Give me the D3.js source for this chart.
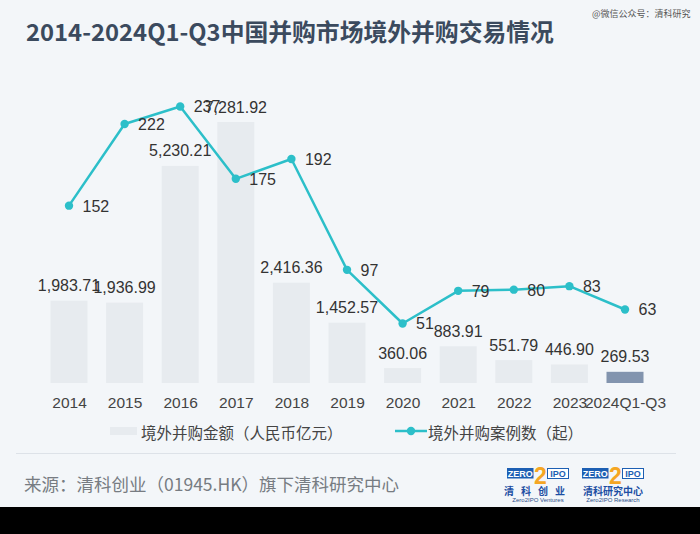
<!DOCTYPE html>
<html><head><meta charset="utf-8">
<script src="https://cdn.jsdelivr.net/npm/d3@7"></script>
<style>
html,body{margin:0;padding:0;background:#f3f6f9;}
svg{display:block;}
</style>
</head><body>
<svg id="chart" width="700" height="534"></svg>
<script>
// ---- data ----
const categories = ["2014","2015","2016","2017","2018","2019","2020","2021","2022","2023","2024Q1-Q3"];
const amountValues = [1983.71,1936.99,5230.21,7281.92,2416.36,1452.57,360.06,883.91,551.79,446.90,269.53];
const dealCounts = [152,222,237,175,192,97,51,79,80,83,63];
const seriesNames = ["境外并购金额（人民币亿元）","境外并购案例数（起）"];
const titleText = "2014-2024Q1-Q3中国并购市场境外并购交易情况";
const sourceText = "来源：清科创业（01945.HK）旗下清科研究中心";
const watermarkText = "@微信公众号：清科研究";

// ---- setup ----
const svg = d3.select("#chart");
const numFont = "'Liberation Sans', Arial, sans-serif";
const cjkFont = "'Noto Sans CJK SC', 'Noto Sans', sans-serif";
const barColor = "#e7ebef", lastBarColor = "#8294ae", lineColor = "#2cbfc9";

svg.append("rect").attr("width",700).attr("height",534).attr("fill","#f3f6f9");

// title
svg.append("text").attr("x",26).attr("y",41)
  .attr("font-family",cjkFont).attr("font-weight","bold").attr("font-size",23.8)
  .attr("fill","#3b4a5e").text(titleText);
svg.append("text").attr("x",592).attr("y",17)
  .attr("font-family",cjkFont).attr("font-size",9).attr("fill","#555")
  .text(watermarkText);

// scales
const plotTop = 122, plotBottom = 383;
const x = d3.scalePoint().domain(categories).range([69, 625]);
const yBar = d3.scaleLinear().domain([0, 6289]).range([plotBottom, plotTop]).clamp(true);
const yLine = d3.scaleLinear().domain([0, 223.7]).range([plotBottom, plotTop]);
const barW = 37;
const fmt = d3.format(",.2f");

// bars
const rows = categories.map((c,i)=>({c, v:amountValues[i], n:dealCounts[i], last:i===categories.length-1}));
svg.append("g").selectAll("rect").data(rows).join("rect")
  .attr("x",d=>x(d.c)-barW/2).attr("width",barW)
  .attr("y",d=>yBar(d.v)).attr("height",d=>plotBottom-yBar(d.v))
  .attr("fill",d=>d.last?lastBarColor:barColor);

// bar labels
svg.append("g").selectAll("text").data(rows).join("text")
  .attr("x",d=>x(d.c)).attr("y",d=>yBar(d.v)-9.5)
  .attr("text-anchor","middle").attr("font-family",numFont).attr("font-size",16)
  .attr("fill","#333").text(d=>fmt(d.v));

// line
const line = d3.line().x(d=>x(d.c)).y(d=>yLine(d.n));
svg.append("path").datum(rows).attr("d",line)
  .attr("fill","none").attr("stroke",lineColor).attr("stroke-width",2.5).attr("stroke-linejoin","round");
svg.append("g").selectAll("circle").data(rows).join("circle")
  .attr("cx",d=>x(d.c)).attr("cy",d=>yLine(d.n)).attr("r",4.2).attr("fill",lineColor);
svg.append("g").selectAll("text").data(rows).join("text")
  .attr("x",d=>x(d.c)+13.5).attr("y",d=>yLine(d.n)+6)
  .attr("font-family",numFont).attr("font-size",16).attr("fill","#333")
  .text(d=>d.n);

// x axis
const xAxis = svg.append("g").attr("transform",`translate(0,${plotBottom})`)
  .call(d3.axisBottom(x).tickSize(0).tickPadding(14));
xAxis.select(".domain").remove();
xAxis.selectAll("text").attr("font-family",numFont).attr("font-size",15.5).attr("fill","#444");

// legend
const lg = svg.append("g");
lg.append("rect").attr("x",110).attr("y",427).attr("width",27).attr("height",8).attr("fill",barColor);
lg.append("text").attr("x",141).attr("y",432).attr("dominant-baseline","central")
  .attr("font-family",cjkFont).attr("font-size",15.5).attr("fill","#444").text(seriesNames[0]);
lg.append("line").attr("x1",395).attr("x2",427).attr("y1",431).attr("y2",431)
  .attr("stroke",lineColor).attr("stroke-width",2.5);
lg.append("circle").attr("cx",411).attr("cy",431).attr("r",4.2).attr("fill",lineColor);
lg.append("text").attr("x",428).attr("y",432).attr("dominant-baseline","central")
  .attr("font-family",cjkFont).attr("font-size",15.5).attr("fill","#444").text(seriesNames[1]);

// footer
svg.append("line").attr("x1",16).attr("x2",676).attr("y1",453.5).attr("y2",453.5)
  .attr("stroke","#dde2e8").attr("stroke-width",1);
svg.append("text").attr("x",24).attr("y",483).attr("dominant-baseline","central")
  .attr("font-family",cjkFont).attr("font-size",17.5).attr("fill","#777c82").text(sourceText);

// logos
function logo(x0, cn, en, spread){
  const g = svg.append("g");
  g.append("rect").attr("x",x0).attr("y",468).attr("width",26.5).attr("height",10.5).attr("fill","#1d5fb3");
  g.append("text").attr("x",x0+13.2).attr("y",476.5).attr("text-anchor","middle")
    .attr("font-family",numFont).attr("font-weight","bold").attr("font-size",9).attr("fill","#fff").text("ZERO");
  g.append("rect").attr("x",x0+40.5).attr("y",468.5).attr("width",21).attr("height",10).attr("fill","#fff")
    .attr("stroke","#1d5fb3").attr("stroke-width",1);
  g.append("text").attr("x",x0+51).attr("y",476.8).attr("text-anchor","middle")
    .attr("font-family",numFont).attr("font-weight","bold").attr("font-size",9).attr("fill","#1d5fb3").text("IPO");
  g.append("text").attr("x",x0+33.5).attr("y",484).attr("text-anchor","middle")
    .attr("font-family",numFont).attr("font-weight","bold").attr("font-size",23).attr("fill","#f5a623").text("2");
  g.append("text").attr("x",x0+31).attr("y",494.5).attr("text-anchor","middle")
    .attr("font-family",cjkFont).attr("font-weight","bold").attr("font-size",10)
    .attr("letter-spacing",spread).attr("fill","#1d4fa3").text(cn);
  g.append("text").attr("x",x0+31).attr("y",502).attr("text-anchor","middle")
    .attr("font-family",numFont).attr("font-size",6).attr("fill","#2a4f8a").text(en);
}
logo(507, "清科创业", "Zero2IPO Ventures", 7);
logo(582, "清科研究中心", "Zero2IPO Research", 0);

// bottom black band
svg.append("rect").attr("x",0).attr("y",507).attr("width",700).attr("height",27).attr("fill","#000");
</script>
</body></html>
